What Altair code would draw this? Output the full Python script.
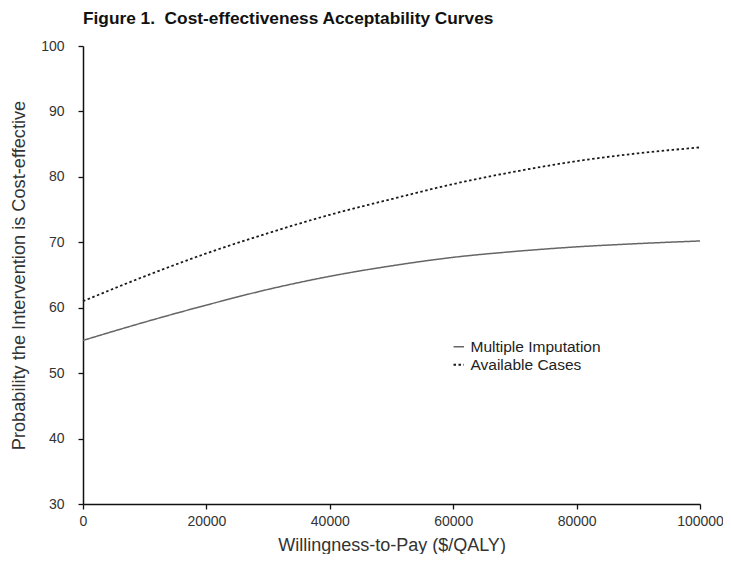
import altair as alt
import pandas as pd

wtp = [0, 10000, 20000, 30000, 40000, 50000, 60000, 70000, 80000, 90000, 100000]
multiple_imputation = [55.0, 57.8, 60.4, 62.8, 64.8, 66.4, 67.7, 68.6, 69.3, 69.8, 70.2]
available_cases = [61.0, 64.8, 68.3, 71.4, 74.2, 76.6, 78.9, 80.8, 82.4, 83.6, 84.5]
series_names = ["Multiple Imputation", "Available Cases"]

rows = []
for w, v in zip(wtp, multiple_imputation):
    rows.append({"wtp": w, "prob": v, "series": series_names[0]})
for w, v in zip(wtp, available_cases):
    rows.append({"wtp": w, "prob": v, "series": series_names[1]})
df = pd.DataFrame(rows)

FONT = "Liberation Sans"

chart = alt.Chart(df).mark_line(interpolate="monotone").encode(
    x=alt.X("wtp:Q", title="Willingness-to-Pay ($/QALY)",
            scale=alt.Scale(domain=[0, 100000], nice=False),
            axis=alt.Axis(values=[0, 20000, 40000, 60000, 80000, 100000], format="d",
                          labelFlush=False)),
    y=alt.Y("prob:Q", title="Probability the Intervention is Cost-effective",
            scale=alt.Scale(domain=[30, 100], nice=False, zero=False),
            axis=alt.Axis(values=[30, 40, 50, 60, 70, 80, 90, 100])),
    color=alt.Color("series:N", scale=alt.Scale(domain=series_names, range=["#666666", "#1a1a1a"]),
                    legend=alt.Legend(title=None, orient="none", legendX=368, legendY=293,
                                      symbolType="stroke", symbolSize=110, symbolStrokeWidth=1.5,
                                      labelFont=FONT, labelFontSize=15.5, labelColor="#222",
                                      rowPadding=1, symbolOffset=0)),
    strokeDash=alt.StrokeDash("series:N",
                              scale=alt.Scale(domain=series_names, range=[[1, 0], [2.5, 2.5]]),
                              legend=None),
    strokeWidth=alt.StrokeWidth("series:N",
                                scale=alt.Scale(domain=series_names, range=[1.5, 1.8]),
                                legend=None),
).properties(
    width=617, height=458,
    title=alt.TitleParams("Figure 1.\u00a0\u00a0Cost-effectiveness Acceptability Curves", anchor="start",
                          frame="group",
                          font=FONT, fontSize=17.3, fontWeight="bold", color="#111", offset=12),
    autosize=alt.AutoSizeParams(type="none"),
    padding={"left": 75, "top": 38, "right": 23, "bottom": 50},
).configure_view(stroke=None).configure_axis(
    grid=False, domainColor="#111", domainWidth=1.5, tickColor="#111", tickWidth=1.3,
    tickSize=5, labelFont=FONT, labelFontSize=14, labelColor="#333", titleFont=FONT,
    titleFontWeight="normal", titleColor="#333"
).configure_axisY(labelPadding=14, titlePadding=12, titleFontSize=18.2).configure_axisX(
    labelPadding=5, titlePadding=8, titleFontSize=18)

chart.save("out.html", embed_options={"renderer": "svg", "actions": False})
